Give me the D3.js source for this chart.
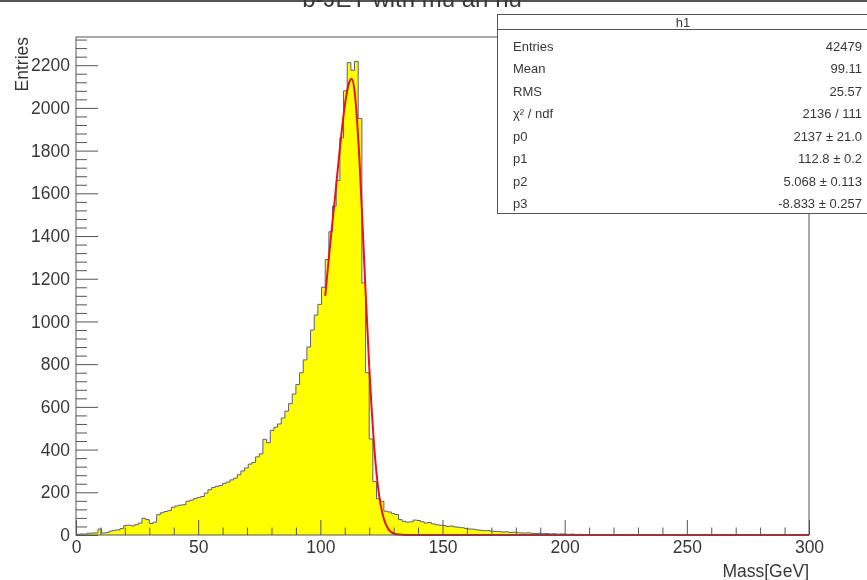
<!DOCTYPE html>
<html>
<head>
<meta charset="utf-8">
<script src="https://cdn.jsdelivr.net/npm/d3@7"></script>
<style>
  body { margin: 0; background: #fff; }
  svg { display: block; filter: blur(0.5px); }
  text { font-family: "Liberation Sans", Arial, Helvetica, sans-serif; fill: #383838; }
</style>
</head>
<body>
<div id="chart"></div>
<script>
(function() {

  var width = 867,
      height = 580;

  // histogram h1 : 200 bins of 1.5 GeV between 0 and 300
  var massMin = 0, massMax = 300, nBins = 200;
  var counts = [
    3, 5, 4, 8, 9, 10, 28, 9, 11, 18,
    22, 24, 30, 44, 46, 43, 48, 56, 78, 72,
    54, 60, 95, 104, 110, 114, 130, 136, 140, 142,
    158, 163, 170, 176, 180, 196, 212, 222, 228, 232,
    242, 248, 258, 266, 282, 300, 314, 332, 340, 366,
    380, 448, 432, 490, 505, 520, 548, 580, 615, 660,
    705, 760, 820, 880, 960, 1030, 1080, 1160, 1290, 1420,
    1540, 1660, 1860, 2080, 2212, 2176, 2218, 1950, 1180, 760,
    450, 250, 170, 158, 112, 108, 100, 96, 72, 64,
    60, 62, 70, 68, 62, 56, 58, 52, 48, 46,
    44, 40, 42, 38, 36, 34, 30, 28, 27, 24,
    22, 20, 21, 18, 17, 16, 14, 15, 12, 13,
    11, 10, 9, 10, 8, 7, 8, 6, 7, 5,
    6, 4, 5, 4, 3, 4, 2, 3, 2, 1,
    2, 1, 0, 1, 0, 1, 0, 0, 1, 0,
    0, 0, 0, 0, 0, 0, 0, 0, 0, 0,
    0, 0, 0, 0, 0, 0, 0, 0, 0, 0,
    0, 0, 0, 0, 0, 0, 0, 0, 0, 0,
    0, 0, 0, 0, 0, 0, 0, 0, 0, 0,
    0, 0, 0, 0, 0, 0, 0, 0, 0, 0
  ];

  // fitted function
  var fitMass  = [102, 104, 106, 108, 110, 111, 112, 112.8, 114, 116, 118, 120, 121, 122, 124, 126, 128, 130, 132, 135, 300];
  var fitValue = [1120, 1360, 1580, 1810, 2010, 2080, 2125, 2137, 2080, 1760, 1270, 790, 590, 420, 190, 75, 25, 7, 2, 0, 0];

  var yMajor = [0, 200, 400, 600, 800, 1000, 1200, 1400, 1600, 1800, 2000, 2200];
  var xMajor = [0, 50, 100, 150, 200, 250, 300];

  var statLabels = ["Entries", "Mean", "RMS", "\u03c7\u00b2 / ndf", "p0", "p1", "p2", "p3"];
  var statValues = ["42479", "99.11", "25.57", "2136 / 111", "2137 \u00b1 21.0", "112.8 \u00b1 0.2", "5.068 \u00b1 0.113", "-8.833 \u00b1 0.257"];

  var frame = {left: 76, right: 809, top: 37, bottom: 535};

  var x = d3.scaleLinear().domain([massMin, massMax]).range([frame.left, frame.right]);
  var y = d3.scaleLinear().domain([0, 2332]).range([frame.bottom, frame.top]);

  var svg = d3.select("#chart").append("svg")
      .attr("width", width)
      .attr("height", height);

  // canvas top border
  svg.append("rect")
      .attr("x", 0).attr("y", 0)
      .attr("width", width).attr("height", 2)
      .style("fill", "#555");

  // title, partly out of the canvas as in the original
  svg.append("text")
      .attr("x", 412)
      .attr("y", 7)
      .attr("text-anchor", "middle")
      .style("font-size", "24px")
      .text("b-JET with mu an nu");

  var binWidth = (massMax - massMin) / nBins;
  var steps = counts.map(function(c, i) { return {m: massMin + i * binWidth, v: c}; });
  steps.push({m: massMax, v: counts[counts.length - 1]});

  svg.append("path")
      .datum(steps)
      .attr("d", d3.area()
          .curve(d3.curveStepAfter)
          .x(function(d) { return x(d.m); })
          .y0(y(0))
          .y1(function(d) { return y(d.v); }))
      .style("fill", "#ffff00");

  svg.append("path")
      .datum(steps)
      .attr("d", d3.line()
          .curve(d3.curveStepAfter)
          .x(function(d) { return x(d.m); })
          .y(function(d) { return y(d.v); }))
      .style("fill", "none")
      .style("stroke", "#5c5c8c")
      .style("stroke-width", 1);

  // fit curve
  svg.append("path")
      .datum(d3.zip(fitMass, fitValue))
      .attr("d", d3.line()
          .curve(d3.curveMonotoneX)
          .x(function(d) { return x(d[0]); })
          .y(function(d) { return y(d[1]); }))
      .style("fill", "none")
      .style("stroke", "#e3141c")
      .style("stroke-width", 2);

  // frame
  svg.append("rect")
      .attr("x", frame.left).attr("y", frame.top)
      .attr("width", frame.right - frame.left)
      .attr("height", frame.bottom - frame.top)
      .style("fill", "none")
      .style("stroke", "#555")
      .style("stroke-width", 1);

  // axes, ticks pointing inside
  var yMinor = d3.range(0, 2332, 40).filter(function(v) { return v % 200 != 0; });
  var xMinor = d3.range(0, 301, 10).filter(function(v) { return v % 50 != 0; });

  var gy = svg.append("g").attr("transform", "translate(" + frame.left + ",0)");
  gy.append("g").call(d3.axisLeft(y).tickValues(yMinor).tickSize(-11).tickFormat(""));
  gy.append("g").call(d3.axisLeft(y).tickValues(yMajor).tickSize(-22).tickPadding(6).tickFormat(d3.format("d")));

  var gx = svg.append("g").attr("transform", "translate(0," + frame.bottom + ")");
  gx.append("g").call(d3.axisBottom(x).tickValues(xMinor).tickSize(-7.5).tickFormat(""));
  gx.append("g").call(d3.axisBottom(x).tickValues(xMajor).tickSize(-15).tickPadding(6).tickFormat(d3.format("d")));

  svg.selectAll(".domain").remove();
  svg.selectAll(".tick line").style("stroke", "#555");
  svg.selectAll(".tick text")
      .style("font-size", "17.5px")
      .style("font-family", "'Liberation Sans', Arial, sans-serif")
      .style("fill", "#383838");

  svg.append("text")
      .attr("transform", "translate(28," + frame.top + ") rotate(-90)")
      .attr("text-anchor", "end")
      .style("font-size", "17.5px")
      .text("Entries");

  svg.append("text")
      .attr("x", frame.right)
      .attr("y", 577)
      .attr("text-anchor", "end")
      .style("font-size", "17.5px")
      .text("Mass[GeV]");

  // stats box
  var box = {x: 497.5, y: 14.5, w: 372, h: 199, head: 15, first: 31.5, pitch: 22.5};
  var stats = svg.append("g");
  stats.append("rect")
      .attr("x", box.x).attr("y", box.y)
      .attr("width", box.w).attr("height", box.h)
      .style("fill", "#fff")
      .style("stroke", "#555");
  stats.append("line")
      .attr("x1", box.x).attr("x2", box.x + box.w)
      .attr("y1", box.y + box.head).attr("y2", box.y + box.head)
      .style("stroke", "#555");
  stats.append("text")
      .attr("x", 683)
      .attr("y", box.y + box.head / 2)
      .attr("dy", "0.35em")
      .attr("text-anchor", "middle")
      .style("font-size", "13px")
      .text("h1");

  var rows = stats.selectAll("g.row")
      .data(statLabels)
    .enter().append("g")
      .attr("class", "row")
      .attr("transform", function(d, i) {
        return "translate(0," + (box.y + box.first + box.pitch * i) + ")";
      });
  rows.append("text")
      .attr("x", 513)
      .attr("dy", "0.35em")
      .style("font-size", "13px")
      .text(function(d) { return d; });
  rows.append("text")
      .attr("x", 862)
      .attr("dy", "0.35em")
      .attr("text-anchor", "end")
      .style("font-size", "13px")
      .text(function(d, i) { return statValues[i]; });

})();
</script>
</body>
</html>
